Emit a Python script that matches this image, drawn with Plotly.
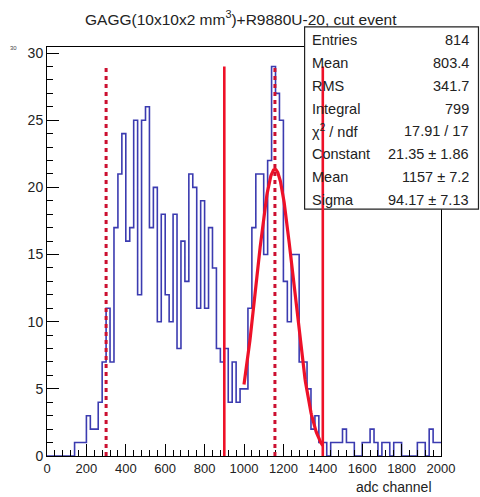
import plotly.graph_objects as go
import math

# ---------------- data ----------------
bin_low = 0
bin_width = 20
counts = [
    0, 0, 0, 0, 0, 0, 0, 1, 1, 1,          # 0-200
    3, 2, 2, 4, 7, 11, 7, 17, 21, 24,      # 200-400
    16, 17, 25, 12, 25, 26, 17, 20, 10, 18,  # 400-600
    12, 10, 18, 8, 16, 13, 21, 20, 11, 19,  # 600-800
    11, 17, 14, 8, 7, 8, 4, 7, 4, 5,       # 800-1000
    5, 11, 17, 21, 21, 15, 22, 29, 27, 25,  # 1000-1200
    13, 10, 15, 15, 7, 7, 5, 2, 3, 1,      # 1200-1400
    1, 0, 1, 1, 1, 2, 1, 1, 0, 0,          # 1400-1600
    1, 1, 2, 1, 0, 1, 1, 0, 1, 1,          # 1600-1800
    0, 0, 0, 0, 1, 1, 0, 2, 1, 1,          # 1800-2000
]

title = "GAGG(10x10x2 mm<sup>3</sup>)+R9880U-20, cut event"
x_title = "adc channel"
corner_mark = "30"

stat_labels = ["Entries", "Mean", "RMS", "Integral", "χ<sup>2</sup> / ndf",
               "Constant", "Mean", "Sigma"]
stat_values = ["814", "803.4", "341.7", "799", "17.91 / 17",
               "21.35 ± 1.86", "1157 ± 7.2", "94.17 ± 7.13"]

fit_const = 21.35
fit_mean = 1157.0
fit_sigma = 94.17
fit_range = [1000, 1400]

cut_lines = [900, 1400]      # solid red
mark_lines = [300, 1157]     # dashed
line_top = 29

# ---------------- build ----------------
edges = [bin_low + i * bin_width for i in range(len(counts) + 1)]
hx = edges
hy = counts + [counts[-1]]

n_fit = 200
fx = [fit_range[0] + (fit_range[1] - fit_range[0]) * i / n_fit for i in range(n_fit + 1)]
fy = [fit_const * math.exp(-0.5 * ((v - fit_mean) / fit_sigma) ** 2) for v in fx]

fig = go.Figure()
fig.add_trace(go.Scatter(x=hx, y=hy, mode="lines", line_shape="hv",
                         line=dict(color="#3b3bb0", width=1.6), hoverinfo="skip"))
fig.add_trace(go.Scatter(x=fx, y=fy, mode="lines",
                         line=dict(color="#ee1128", width=3.2), hoverinfo="skip"))

W, H = 480, 497
L, R, T, B = 46.7, 441.0, 46.7, 456.0
pw, ph = R - L, B - T


def px(xp):
    return (xp - L) / pw


def py(yp):
    return (B - yp) / ph


FONT = "Liberation Sans"
TXT = "#222"

shapes = []
# stat box
shapes.append(dict(type="rect", xref="paper", yref="paper",
                   x0=px(304.5), x1=px(478.5), y0=py(209), y1=py(26.5),
                   fillcolor="white", line=dict(color="#222", width=1.2),
                   layer="above"))
for v in mark_lines:
    shapes.append(dict(type="line", xref="x", yref="y", x0=v, x1=v, y0=0, y1=line_top,
                       line=dict(color="#cc1030", width=3, dash="4px,4px"),
                       layer="above"))
for v in cut_lines:
    shapes.append(dict(type="line", xref="x", yref="y", x0=v, x1=v, y0=0, y1=line_top,
                       line=dict(color="#ee1128", width=2.6), layer="above"))

annotations = []
annotations.append(dict(text=title, xref="paper", yref="paper", x=px(241), y=py(18),
                        xanchor="center", yanchor="middle", showarrow=False,
                        font=dict(family=FONT, size=15.5, color=TXT)))
annotations.append(dict(text=x_title, xref="paper", yref="paper", x=px(434), y=py(487),
                        xanchor="right", yanchor="middle", showarrow=False,
                        font=dict(family=FONT, size=14, color=TXT)))
annotations.append(dict(text=corner_mark, xref="paper", yref="paper", x=px(19), y=py(48),
                        xanchor="right", yanchor="middle", showarrow=False,
                        font=dict(family=FONT, size=6, color="#444")))
for i, (lab, val) in enumerate(zip(stat_labels, stat_values)):
    yc = 40 + 22.8 * i
    annotations.append(dict(text=lab, xref="paper", yref="paper", x=px(310), y=py(yc),
                            xanchor="left", yanchor="middle", showarrow=False,
                            font=dict(family=FONT, size=14.5, color=TXT)))
    annotations.append(dict(text=val, xref="paper", yref="paper", x=px(471), y=py(yc),
                            xanchor="right", yanchor="middle", showarrow=False,
                            font=dict(family=FONT, size=14.5, color=TXT)))

fig.update_layout(
    width=W, height=H,
    margin=dict(l=L, r=W - R, t=T, b=H - B, pad=0),
    paper_bgcolor="white", plot_bgcolor="white",
    showlegend=False,
    shapes=shapes, annotations=annotations,
    font=dict(family=FONT, size=13, color=TXT),
)
fig.update_xaxes(range=[0, 2000], tickmode="linear", tick0=0, dtick=200,
                 ticks="inside", ticklen=12, tickwidth=1, tickcolor="black",
                 minor=dict(dtick=40, ticklen=6, ticks="inside", tickcolor="black"),
                 showline=True, linecolor="black", linewidth=1, mirror=True,
                 showgrid=False, zeroline=False,
                 tickfont=dict(family=FONT, size=13, color=TXT))
fig.update_yaxes(range=[0, 30.45], tickmode="linear", tick0=0, dtick=5,
                 ticks="inside", ticklen=12, tickwidth=1, tickcolor="black",
                 minor=dict(dtick=1, ticklen=6, ticks="inside", tickcolor="black"),
                 showline=True, linecolor="black", linewidth=1, mirror=True,
                 showgrid=False, zeroline=False,
                 tickfont=dict(family=FONT, size=14, color=TXT))

fig.write_html("out.html")
